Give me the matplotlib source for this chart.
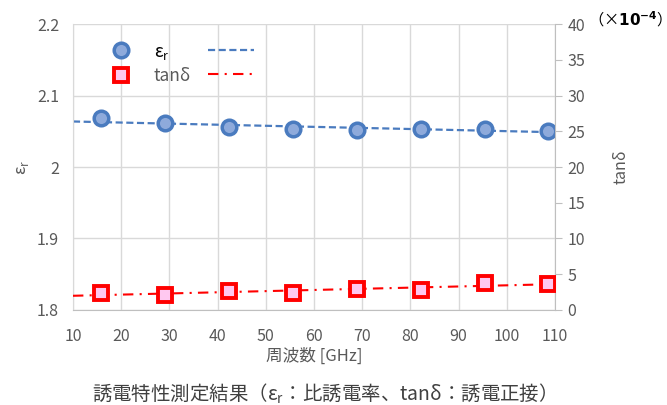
import numpy as np
import matplotlib.pyplot as plt
from matplotlib.lines import Line2D

plt.rcParams['font.family'] = ['Noto Sans CJK JP', 'DejaVu Sans']

# datos
frecuencia = [15.8, 29.1, 42.4, 55.6, 68.9, 82.2, 95.5, 108.5]
eps_r = [2.068, 2.061, 2.0555, 2.053, 2.052, 2.053, 2.053, 2.051]
tan_d = [2.4, 2.1, 2.6, 2.4, 3.0, 2.8, 3.8, 3.6]  # x1e-4

gris = "#595959"
azul_borde = "#4A7BBF"
azul_relleno = "#8EAADB"
rojo = "#FF0000"

fig = plt.figure(figsize=(6.67, 4.05), dpi=100)
ax = fig.add_axes([0.1094, 0.2346, 0.7226, 0.7061])
ax2 = ax.twinx()

# tendencias lineales
xs = np.array([10, 110])
p1 = np.polyfit(frecuencia, eps_r, 1)
p2 = np.polyfit(frecuencia, tan_d, 1)
ax.plot(xs, np.polyval(p1, xs), ls=(0, (3.2, 1.6)), color=azul_borde, lw=1.6, zorder=2)
ax2.plot(xs, np.polyval(p2, xs), ls=(0, (5, 3, 1, 3)), color=rojo, lw=1.5, zorder=2)

ax.plot(frecuencia, eps_r, 'o', ms=10.5, mfc=azul_relleno, mec=azul_borde, mew=2.5, zorder=3)
ax2.plot(frecuencia, tan_d, 's', ms=9.5, mfc="#FFC8F0", mec=rojo, mew=2.8, zorder=3)

ax.set_xlim(10, 110)
ax.set_ylim(1.8, 2.2)
ax2.set_ylim(0, 40)
ax.set_xticks(np.arange(10, 111, 10))
ax.set_yticks([1.8, 1.9, 2.0, 2.1, 2.2])
ax.set_yticklabels(["1.8", "1.9", "2", "2.1", "2.2"])
ax2.set_yticks(np.arange(0, 41, 5))

ax.grid(True, color="#D9D9D9", lw=1)
ax.set_axisbelow(True)
for a in (ax, ax2):
    for s in a.spines.values():
        s.set_visible(False)
ax.spines['bottom'].set_visible(True)
ax.spines['bottom'].set_color("#BFBFBF")
ax.spines['left'].set_visible(True)
ax.spines['left'].set_color("#D9D9D9")
ax2.spines['right'].set_visible(True)
ax2.spines['right'].set_color("#BFBFBF")

ax.tick_params(axis='both', length=0, labelsize=11.5, colors=gris, pad=10)
ax.tick_params(axis='x', pad=13)
ax2.tick_params(axis='y', length=5, color="#BFBFBF", labelsize=11.5, labelcolor=gris, pad=4)

ax.set_xlabel("周波数 [GHz]", fontsize=12, color=gris, labelpad=2)
ax.set_ylabel(r"ε$_{\mathregular{r}}$", fontsize=12, color=gris, labelpad=4)
ax2.set_ylabel("tanδ", fontsize=11.5, color=gris, labelpad=20)

fig.text(0.882, 0.952, r"（×$\mathbf{10^{-4}}$）", fontsize=11, color="black", ha="left", va="center")

# leyenda estilo Excel: marcador, texto, muestra de línea
h = [Line2D([], [], marker='o', ls='none', ms=10.5, mfc=azul_relleno, mec=azul_borde, mew=2.5),
     Line2D([], [], marker='s', ls='none', ms=9.5, mfc="#FFC8F0", mec=rojo, mew=2.8),
     Line2D([], [], ls=(0, (3.2, 1.6)), color=azul_borde, lw=1.6),
     Line2D([], [], ls=(0, (5, 3, 1, 3)), color=rojo, lw=1.5)]
etiquetas = [r"ε$_{\mathregular{r}}$", "tanδ", "", ""]
leg = ax.legend(h, etiquetas, ncol=2, loc="upper left", bbox_to_anchor=(0.02, 0.99),
                frameon=False, fontsize=12.5, handlelength=2.6, handletextpad=0.6,
                columnspacing=1.0, labelspacing=0.3)
leg.get_texts()[0].set_color("black")
leg.get_texts()[1].set_color(gris)

fig.text(0.478, 0.028, "誘電特性測定結果（ε$_{\\mathregular{r}}$：比誘電率、tanδ：誘電正接）",
         fontsize=14, color="#404040", ha="center", va="center")

fig.savefig("out.png", dpi=100)
